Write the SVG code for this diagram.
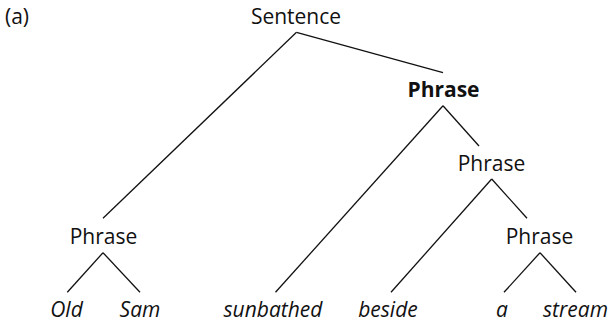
<svg xmlns="http://www.w3.org/2000/svg" width="610" height="324" viewBox="0 0 610 324">
<style>
text{font-family:"Open Sans","Noto Sans",sans-serif;font-size:21px;fill:#111;text-anchor:middle}
.b{font-weight:bold}
.i{font-style:italic}
#connectors line{stroke:#111;stroke-width:1.3;fill:none}
</style>
<rect width="610" height="324" fill="#fff"/>
<text x="5" y="24" style="text-anchor:start">(a)</text>
<g id="connectors">
<line x1="296.5" y1="32.3" x2="103" y2="218.3"/>
<line x1="296.5" y1="32.3" x2="443" y2="72.7"/>
<line x1="443" y1="105.7" x2="275.5" y2="292.3"/>
<line x1="443" y1="105.7" x2="479" y2="146"/>
<line x1="491.7" y1="179" x2="391" y2="292.3"/>
<line x1="491.7" y1="179" x2="527" y2="218.3"/>
<line x1="103" y1="252.7" x2="67.3" y2="292.3"/>
<line x1="103" y1="252.7" x2="140" y2="292.3"/>
<line x1="540" y1="252.7" x2="504" y2="292.3"/>
<line x1="540" y1="252.7" x2="576" y2="292.3"/>
</g>
<g id="sentence"><text x="296" y="24">Sentence</text></g>
<g id="phrase-bold"><text class="b" x="443.5" y="97">Phrase</text></g>
<g id="phrase-2"><text x="491.5" y="170.7">Phrase</text></g>
<g id="phrase-left"><text x="103.5" y="244">Phrase</text></g>
<g id="phrase-3"><text x="539.5" y="244">Phrase</text></g>
<g id="w-old"><text class="i" x="66.5" y="317">Old</text></g>
<g id="w-sam"><text class="i" x="140" y="317">Sam</text></g>
<g id="w-sunbathed"><text class="i" x="273" y="317">sunbathed</text></g>
<g id="w-beside"><text class="i" x="388" y="317">beside</text></g>
<g id="w-a"><text class="i" x="502" y="317">a</text></g>
<g id="w-stream"><text class="i" x="575.5" y="317">stream</text></g>
</svg>
